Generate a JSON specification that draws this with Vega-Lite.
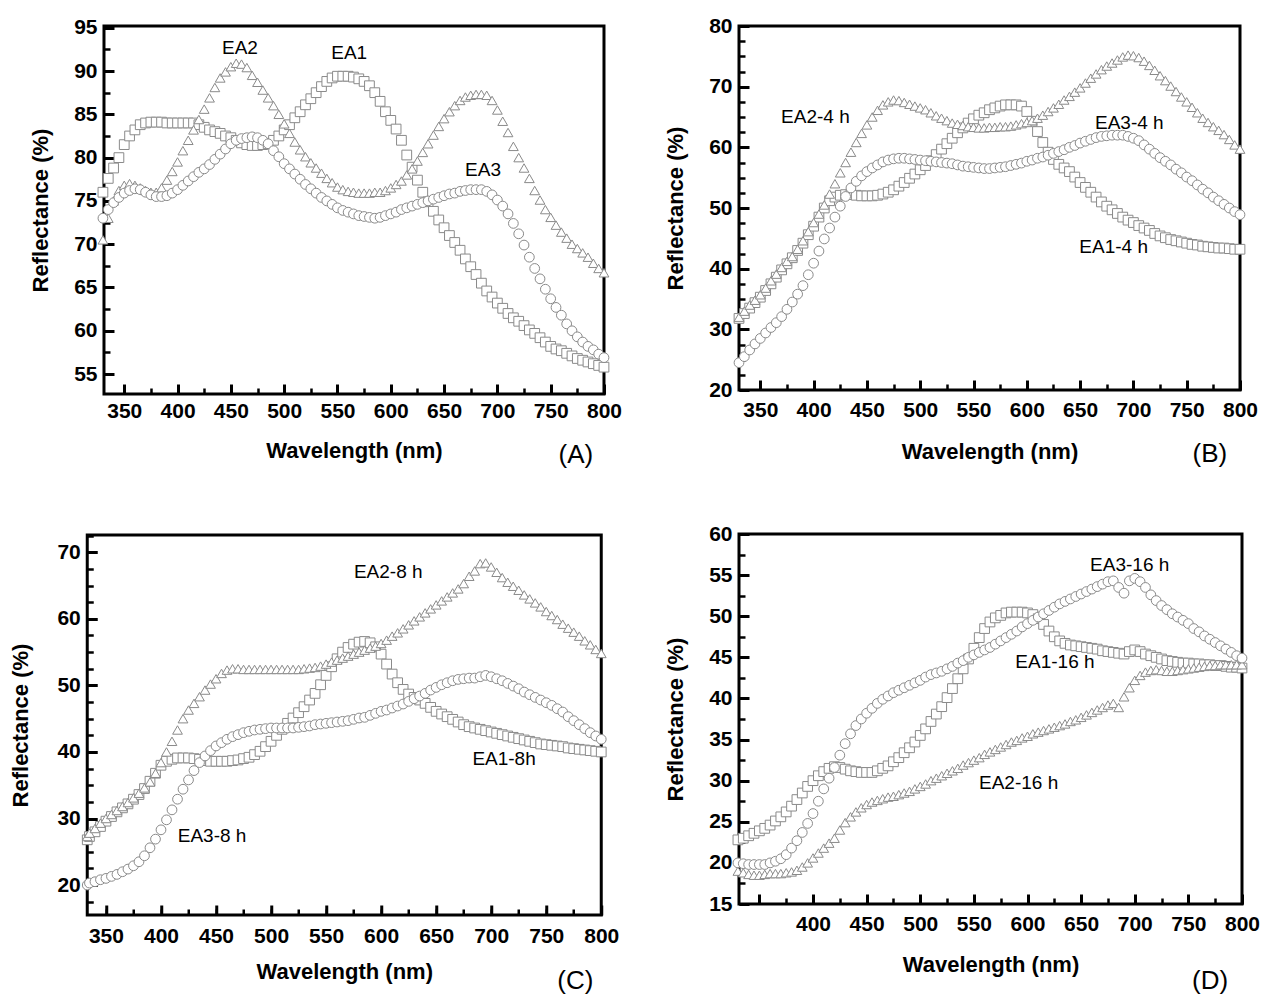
{
"$schema": "https://vega.github.io/schema/vega-lite/v6.json",
"padding": {"left": 8, "top": 13, "right": 0, "bottom": 0},
"background": "white",
"config": {
  "view": {"stroke": "black", "strokeWidth": 3},
  "axis": {"ticks": true, "domainColor": "black", "domainWidth": 3, "tickColor": "#000000", "tickOpacity": 1, "tickWidth": 3, "zindex": 1, "labelFont": "Liberation Sans", "labelFontWeight": "bold", "labelFontSize": 21, "labelColor": "black", "titleFont": "Liberation Sans", "titleFontWeight": "bold", "titleFontSize": 22, "titleColor": "black", "grid": false, "labelOverlap": false, "labelBound": false, "labelFlush": false},
  "text": {"font": "Liberation Sans", "color": "black"}
},
"datasets": {
"A": [
{"w":330,"s":"EA1","r":76},{"w":335,"s":"EA1","r":77.6},{"w":340,"s":"EA1","r":78.8},{"w":345,"s":"EA1","r":80},{"w":350,"s":"EA1","r":81.5},{"w":355,"s":"EA1","r":82.5},{"w":360,"s":"EA1","r":83.2},{"w":365,"s":"EA1","r":83.8},{"w":370,"s":"EA1","r":84},{"w":375,"s":"EA1","r":84.1},{"w":380,"s":"EA1","r":84.1},{"w":385,"s":"EA1","r":84.1},{"w":390,"s":"EA1","r":84},{"w":395,"s":"EA1","r":84},{"w":400,"s":"EA1","r":84},{"w":405,"s":"EA1","r":84},{"w":410,"s":"EA1","r":84},{"w":415,"s":"EA1","r":84},{"w":420,"s":"EA1","r":83.8},{"w":425,"s":"EA1","r":83.5},{"w":430,"s":"EA1","r":83.2},{"w":435,"s":"EA1","r":83},{"w":440,"s":"EA1","r":82.8},{"w":445,"s":"EA1","r":82.5},{"w":450,"s":"EA1","r":82.3},{"w":455,"s":"EA1","r":82},{"w":460,"s":"EA1","r":81.7},{"w":465,"s":"EA1","r":81.5},{"w":470,"s":"EA1","r":81.4},{"w":475,"s":"EA1","r":81.4},{"w":480,"s":"EA1","r":81.5},{"w":485,"s":"EA1","r":81.6},{"w":490,"s":"EA1","r":82},{"w":495,"s":"EA1","r":82.5},{"w":500,"s":"EA1","r":83.2},{"w":505,"s":"EA1","r":83.8},{"w":510,"s":"EA1","r":84.6},{"w":515,"s":"EA1","r":85.3},{"w":520,"s":"EA1","r":86.1},{"w":525,"s":"EA1","r":86.8},{"w":530,"s":"EA1","r":87.5},{"w":535,"s":"EA1","r":88.2},{"w":540,"s":"EA1","r":88.8},{"w":545,"s":"EA1","r":89.2},{"w":550,"s":"EA1","r":89.4},{"w":555,"s":"EA1","r":89.4},{"w":560,"s":"EA1","r":89.4},{"w":565,"s":"EA1","r":89.3},{"w":570,"s":"EA1","r":89.1},{"w":575,"s":"EA1","r":88.8},{"w":580,"s":"EA1","r":88.3},{"w":585,"s":"EA1","r":87.5},{"w":590,"s":"EA1","r":86.5},{"w":595,"s":"EA1","r":85.3},{"w":600,"s":"EA1","r":84.3},{"w":605,"s":"EA1","r":83.3},{"w":610,"s":"EA1","r":82},{"w":615,"s":"EA1","r":80.3},{"w":620,"s":"EA1","r":78.9},{"w":625,"s":"EA1","r":77.4},{"w":630,"s":"EA1","r":76},{"w":635,"s":"EA1","r":74.9},{"w":640,"s":"EA1","r":73.8},{"w":645,"s":"EA1","r":72.8},{"w":650,"s":"EA1","r":71.9},{"w":655,"s":"EA1","r":71},{"w":660,"s":"EA1","r":70.2},{"w":665,"s":"EA1","r":69.3},{"w":670,"s":"EA1","r":68.3},{"w":675,"s":"EA1","r":67.4},{"w":680,"s":"EA1","r":66.5},{"w":685,"s":"EA1","r":65.5},{"w":690,"s":"EA1","r":64.6},{"w":695,"s":"EA1","r":63.9},{"w":700,"s":"EA1","r":63.2},{"w":705,"s":"EA1","r":62.6},{"w":710,"s":"EA1","r":62},{"w":715,"s":"EA1","r":61.5},{"w":720,"s":"EA1","r":61.1},{"w":725,"s":"EA1","r":60.6},{"w":730,"s":"EA1","r":60.1},{"w":735,"s":"EA1","r":59.7},{"w":740,"s":"EA1","r":59.2},{"w":745,"s":"EA1","r":58.7},{"w":750,"s":"EA1","r":58.2},{"w":755,"s":"EA1","r":57.9},{"w":760,"s":"EA1","r":57.7},{"w":765,"s":"EA1","r":57.4},{"w":770,"s":"EA1","r":57.1},{"w":775,"s":"EA1","r":56.8},{"w":780,"s":"EA1","r":56.6},{"w":785,"s":"EA1","r":56.4},{"w":790,"s":"EA1","r":56.2},{"w":795,"s":"EA1","r":56},{"w":800,"s":"EA1","r":55.8},
{"w":330,"s":"EA2","r":70.5},{"w":335,"s":"EA2","r":73},{"w":340,"s":"EA2","r":75},{"w":345,"s":"EA2","r":76.2},{"w":350,"s":"EA2","r":76.8},{"w":355,"s":"EA2","r":77},{"w":360,"s":"EA2","r":76.8},{"w":365,"s":"EA2","r":76.5},{"w":370,"s":"EA2","r":76.2},{"w":375,"s":"EA2","r":76},{"w":380,"s":"EA2","r":76},{"w":385,"s":"EA2","r":76.5},{"w":390,"s":"EA2","r":77.4},{"w":395,"s":"EA2","r":78.4},{"w":400,"s":"EA2","r":79.5},{"w":405,"s":"EA2","r":80.8},{"w":410,"s":"EA2","r":82},{"w":415,"s":"EA2","r":83.2},{"w":420,"s":"EA2","r":84.4},{"w":425,"s":"EA2","r":85.6},{"w":430,"s":"EA2","r":86.9},{"w":435,"s":"EA2","r":88.1},{"w":440,"s":"EA2","r":89.2},{"w":445,"s":"EA2","r":89.9},{"w":450,"s":"EA2","r":90.5},{"w":455,"s":"EA2","r":90.9},{"w":460,"s":"EA2","r":90.8},{"w":465,"s":"EA2","r":90.4},{"w":470,"s":"EA2","r":89.5},{"w":475,"s":"EA2","r":88.7},{"w":480,"s":"EA2","r":87.8},{"w":485,"s":"EA2","r":86.9},{"w":490,"s":"EA2","r":86},{"w":495,"s":"EA2","r":85},{"w":500,"s":"EA2","r":83.9},{"w":505,"s":"EA2","r":82.8},{"w":510,"s":"EA2","r":81.8},{"w":515,"s":"EA2","r":80.9},{"w":520,"s":"EA2","r":80.1},{"w":525,"s":"EA2","r":79.4},{"w":530,"s":"EA2","r":78.8},{"w":535,"s":"EA2","r":78.2},{"w":540,"s":"EA2","r":77.6},{"w":545,"s":"EA2","r":77.1},{"w":550,"s":"EA2","r":76.6},{"w":555,"s":"EA2","r":76.3},{"w":560,"s":"EA2","r":76.1},{"w":565,"s":"EA2","r":76},{"w":570,"s":"EA2","r":75.9},{"w":575,"s":"EA2","r":75.9},{"w":580,"s":"EA2","r":75.9},{"w":585,"s":"EA2","r":76},{"w":590,"s":"EA2","r":76},{"w":595,"s":"EA2","r":76.2},{"w":600,"s":"EA2","r":76.5},{"w":605,"s":"EA2","r":76.9},{"w":610,"s":"EA2","r":77.3},{"w":615,"s":"EA2","r":78},{"w":620,"s":"EA2","r":78.7},{"w":625,"s":"EA2","r":79.6},{"w":630,"s":"EA2","r":80.6},{"w":635,"s":"EA2","r":81.6},{"w":640,"s":"EA2","r":82.6},{"w":645,"s":"EA2","r":83.6},{"w":650,"s":"EA2","r":84.5},{"w":655,"s":"EA2","r":85.3},{"w":660,"s":"EA2","r":86},{"w":665,"s":"EA2","r":86.6},{"w":670,"s":"EA2","r":87},{"w":675,"s":"EA2","r":87.2},{"w":680,"s":"EA2","r":87.3},{"w":685,"s":"EA2","r":87.3},{"w":690,"s":"EA2","r":87.2},{"w":695,"s":"EA2","r":86.6},{"w":700,"s":"EA2","r":85.5},{"w":705,"s":"EA2","r":84.2},{"w":710,"s":"EA2","r":82.9},{"w":715,"s":"EA2","r":81.3},{"w":720,"s":"EA2","r":80},{"w":725,"s":"EA2","r":78.8},{"w":730,"s":"EA2","r":77.6},{"w":735,"s":"EA2","r":76.2},{"w":740,"s":"EA2","r":75.1},{"w":745,"s":"EA2","r":74},{"w":750,"s":"EA2","r":73.1},{"w":755,"s":"EA2","r":72.2},{"w":760,"s":"EA2","r":71.4},{"w":765,"s":"EA2","r":70.7},{"w":770,"s":"EA2","r":70},{"w":775,"s":"EA2","r":69.5},{"w":780,"s":"EA2","r":69},{"w":785,"s":"EA2","r":68.5},{"w":790,"s":"EA2","r":67.8},{"w":795,"s":"EA2","r":67.2},{"w":800,"s":"EA2","r":66.7},
{"w":330,"s":"EA3","r":73},{"w":335,"s":"EA3","r":74},{"w":340,"s":"EA3","r":74.8},{"w":345,"s":"EA3","r":75.4},{"w":350,"s":"EA3","r":75.9},{"w":355,"s":"EA3","r":76.2},{"w":360,"s":"EA3","r":76.4},{"w":365,"s":"EA3","r":76.3},{"w":370,"s":"EA3","r":76},{"w":375,"s":"EA3","r":75.7},{"w":380,"s":"EA3","r":75.5},{"w":385,"s":"EA3","r":75.5},{"w":390,"s":"EA3","r":75.6},{"w":395,"s":"EA3","r":75.9},{"w":400,"s":"EA3","r":76.3},{"w":405,"s":"EA3","r":76.8},{"w":410,"s":"EA3","r":77.3},{"w":415,"s":"EA3","r":77.8},{"w":420,"s":"EA3","r":78.3},{"w":425,"s":"EA3","r":78.7},{"w":430,"s":"EA3","r":79.2},{"w":435,"s":"EA3","r":79.8},{"w":440,"s":"EA3","r":80.4},{"w":445,"s":"EA3","r":81},{"w":450,"s":"EA3","r":81.6},{"w":455,"s":"EA3","r":82},{"w":460,"s":"EA3","r":82.2},{"w":465,"s":"EA3","r":82.3},{"w":470,"s":"EA3","r":82.4},{"w":475,"s":"EA3","r":82.3},{"w":480,"s":"EA3","r":82},{"w":485,"s":"EA3","r":81.6},{"w":490,"s":"EA3","r":80.8},{"w":495,"s":"EA3","r":80.1},{"w":500,"s":"EA3","r":79.3},{"w":505,"s":"EA3","r":78.7},{"w":510,"s":"EA3","r":78.1},{"w":515,"s":"EA3","r":77.5},{"w":520,"s":"EA3","r":76.9},{"w":525,"s":"EA3","r":76.4},{"w":530,"s":"EA3","r":75.9},{"w":535,"s":"EA3","r":75.4},{"w":540,"s":"EA3","r":75},{"w":545,"s":"EA3","r":74.6},{"w":550,"s":"EA3","r":74.2},{"w":555,"s":"EA3","r":73.9},{"w":560,"s":"EA3","r":73.7},{"w":565,"s":"EA3","r":73.5},{"w":570,"s":"EA3","r":73.3},{"w":575,"s":"EA3","r":73.2},{"w":580,"s":"EA3","r":73.1},{"w":585,"s":"EA3","r":73},{"w":590,"s":"EA3","r":73.1},{"w":595,"s":"EA3","r":73.3},{"w":600,"s":"EA3","r":73.5},{"w":605,"s":"EA3","r":73.7},{"w":610,"s":"EA3","r":74},{"w":615,"s":"EA3","r":74.2},{"w":620,"s":"EA3","r":74.4},{"w":625,"s":"EA3","r":74.6},{"w":630,"s":"EA3","r":74.8},{"w":635,"s":"EA3","r":75},{"w":640,"s":"EA3","r":75.2},{"w":645,"s":"EA3","r":75.4},{"w":650,"s":"EA3","r":75.6},{"w":655,"s":"EA3","r":75.8},{"w":660,"s":"EA3","r":75.9},{"w":665,"s":"EA3","r":76.1},{"w":670,"s":"EA3","r":76.2},{"w":675,"s":"EA3","r":76.3},{"w":680,"s":"EA3","r":76.3},{"w":685,"s":"EA3","r":76.3},{"w":690,"s":"EA3","r":76.1},{"w":695,"s":"EA3","r":75.7},{"w":700,"s":"EA3","r":75.1},{"w":705,"s":"EA3","r":74.4},{"w":710,"s":"EA3","r":73.5},{"w":715,"s":"EA3","r":72.4},{"w":720,"s":"EA3","r":71.2},{"w":725,"s":"EA3","r":69.9},{"w":730,"s":"EA3","r":68.5},{"w":735,"s":"EA3","r":67.2},{"w":740,"s":"EA3","r":66},{"w":745,"s":"EA3","r":64.8},{"w":750,"s":"EA3","r":63.7},{"w":755,"s":"EA3","r":62.7},{"w":760,"s":"EA3","r":61.8},{"w":765,"s":"EA3","r":60.8},{"w":770,"s":"EA3","r":60},{"w":775,"s":"EA3","r":59.3},{"w":780,"s":"EA3","r":58.7},{"w":785,"s":"EA3","r":58.2},{"w":790,"s":"EA3","r":57.8},{"w":795,"s":"EA3","r":57.3},{"w":800,"s":"EA3","r":56.9}
],
"B": [
{"w":330,"s":"EA1","r":31.8},{"w":335,"s":"EA1","r":32.6},{"w":340,"s":"EA1","r":33.5},{"w":345,"s":"EA1","r":34.4},{"w":350,"s":"EA1","r":35.3},{"w":355,"s":"EA1","r":36.4},{"w":360,"s":"EA1","r":37.5},{"w":365,"s":"EA1","r":38.6},{"w":370,"s":"EA1","r":39.8},{"w":375,"s":"EA1","r":40.8},{"w":380,"s":"EA1","r":41.8},{"w":385,"s":"EA1","r":43},{"w":390,"s":"EA1","r":44.2},{"w":395,"s":"EA1","r":45.6},{"w":400,"s":"EA1","r":47},{"w":405,"s":"EA1","r":48.5},{"w":410,"s":"EA1","r":50},{"w":415,"s":"EA1","r":51.2},{"w":420,"s":"EA1","r":51.8},{"w":425,"s":"EA1","r":52.1},{"w":430,"s":"EA1","r":52.2},{"w":435,"s":"EA1","r":52.2},{"w":440,"s":"EA1","r":52.1},{"w":445,"s":"EA1","r":52},{"w":450,"s":"EA1","r":52},{"w":455,"s":"EA1","r":52},{"w":460,"s":"EA1","r":52.1},{"w":465,"s":"EA1","r":52.3},{"w":470,"s":"EA1","r":52.6},{"w":475,"s":"EA1","r":53},{"w":480,"s":"EA1","r":53.6},{"w":485,"s":"EA1","r":54.2},{"w":490,"s":"EA1","r":54.9},{"w":495,"s":"EA1","r":55.6},{"w":500,"s":"EA1","r":56.3},{"w":505,"s":"EA1","r":57},{"w":510,"s":"EA1","r":57.8},{"w":515,"s":"EA1","r":58.8},{"w":520,"s":"EA1","r":59.7},{"w":525,"s":"EA1","r":60.6},{"w":530,"s":"EA1","r":61.5},{"w":535,"s":"EA1","r":62.4},{"w":540,"s":"EA1","r":63.2},{"w":545,"s":"EA1","r":64},{"w":550,"s":"EA1","r":64.7},{"w":555,"s":"EA1","r":65.3},{"w":560,"s":"EA1","r":65.7},{"w":565,"s":"EA1","r":66.2},{"w":570,"s":"EA1","r":66.5},{"w":575,"s":"EA1","r":66.8},{"w":580,"s":"EA1","r":67},{"w":585,"s":"EA1","r":67},{"w":590,"s":"EA1","r":67},{"w":595,"s":"EA1","r":66.8},{"w":600,"s":"EA1","r":65.9},{"w":605,"s":"EA1","r":64.3},{"w":610,"s":"EA1","r":62.6},{"w":615,"s":"EA1","r":60.8},{"w":620,"s":"EA1","r":59.2},{"w":625,"s":"EA1","r":58},{"w":630,"s":"EA1","r":57.2},{"w":635,"s":"EA1","r":56.6},{"w":640,"s":"EA1","r":56},{"w":645,"s":"EA1","r":55.1},{"w":650,"s":"EA1","r":54.2},{"w":655,"s":"EA1","r":53.4},{"w":660,"s":"EA1","r":52.6},{"w":665,"s":"EA1","r":51.8},{"w":670,"s":"EA1","r":51},{"w":675,"s":"EA1","r":50.3},{"w":680,"s":"EA1","r":49.7},{"w":685,"s":"EA1","r":49.1},{"w":690,"s":"EA1","r":48.5},{"w":695,"s":"EA1","r":48},{"w":700,"s":"EA1","r":47.6},{"w":705,"s":"EA1","r":47.1},{"w":710,"s":"EA1","r":46.7},{"w":715,"s":"EA1","r":46.3},{"w":720,"s":"EA1","r":45.8},{"w":725,"s":"EA1","r":45.4},{"w":730,"s":"EA1","r":45.1},{"w":735,"s":"EA1","r":44.8},{"w":740,"s":"EA1","r":44.6},{"w":745,"s":"EA1","r":44.4},{"w":750,"s":"EA1","r":44.2},{"w":755,"s":"EA1","r":44},{"w":760,"s":"EA1","r":43.9},{"w":765,"s":"EA1","r":43.7},{"w":770,"s":"EA1","r":43.6},{"w":775,"s":"EA1","r":43.5},{"w":780,"s":"EA1","r":43.4},{"w":785,"s":"EA1","r":43.4},{"w":790,"s":"EA1","r":43.3},{"w":795,"s":"EA1","r":43.2},{"w":800,"s":"EA1","r":43.2},
{"w":330,"s":"EA2","r":32},{"w":335,"s":"EA2","r":33},{"w":340,"s":"EA2","r":34},{"w":345,"s":"EA2","r":34.8},{"w":350,"s":"EA2","r":35.7},{"w":355,"s":"EA2","r":36.8},{"w":360,"s":"EA2","r":38},{"w":365,"s":"EA2","r":39.1},{"w":370,"s":"EA2","r":40.2},{"w":375,"s":"EA2","r":41.2},{"w":380,"s":"EA2","r":42},{"w":385,"s":"EA2","r":43.2},{"w":390,"s":"EA2","r":44.6},{"w":395,"s":"EA2","r":46.1},{"w":400,"s":"EA2","r":47.6},{"w":405,"s":"EA2","r":49},{"w":410,"s":"EA2","r":50.5},{"w":415,"s":"EA2","r":52.3},{"w":420,"s":"EA2","r":54},{"w":425,"s":"EA2","r":55.8},{"w":430,"s":"EA2","r":57.5},{"w":435,"s":"EA2","r":59.2},{"w":440,"s":"EA2","r":60.8},{"w":445,"s":"EA2","r":62.3},{"w":450,"s":"EA2","r":63.7},{"w":455,"s":"EA2","r":65},{"w":460,"s":"EA2","r":66.1},{"w":465,"s":"EA2","r":67},{"w":470,"s":"EA2","r":67.5},{"w":475,"s":"EA2","r":67.8},{"w":480,"s":"EA2","r":67.7},{"w":485,"s":"EA2","r":67.4},{"w":490,"s":"EA2","r":67.1},{"w":495,"s":"EA2","r":66.8},{"w":500,"s":"EA2","r":66.5},{"w":505,"s":"EA2","r":66.2},{"w":510,"s":"EA2","r":65.7},{"w":515,"s":"EA2","r":65.2},{"w":520,"s":"EA2","r":64.8},{"w":525,"s":"EA2","r":64.4},{"w":530,"s":"EA2","r":64},{"w":535,"s":"EA2","r":63.8},{"w":540,"s":"EA2","r":63.6},{"w":545,"s":"EA2","r":63.4},{"w":550,"s":"EA2","r":63.3},{"w":555,"s":"EA2","r":63.2},{"w":560,"s":"EA2","r":63.2},{"w":565,"s":"EA2","r":63.3},{"w":570,"s":"EA2","r":63.3},{"w":575,"s":"EA2","r":63.4},{"w":580,"s":"EA2","r":63.4},{"w":585,"s":"EA2","r":63.5},{"w":590,"s":"EA2","r":63.7},{"w":595,"s":"EA2","r":63.9},{"w":600,"s":"EA2","r":64.1},{"w":605,"s":"EA2","r":64.4},{"w":610,"s":"EA2","r":64.8},{"w":615,"s":"EA2","r":65.3},{"w":620,"s":"EA2","r":65.9},{"w":625,"s":"EA2","r":66.5},{"w":630,"s":"EA2","r":67.1},{"w":635,"s":"EA2","r":67.8},{"w":640,"s":"EA2","r":68.4},{"w":645,"s":"EA2","r":69.1},{"w":650,"s":"EA2","r":69.8},{"w":655,"s":"EA2","r":70.6},{"w":660,"s":"EA2","r":71.4},{"w":665,"s":"EA2","r":72.1},{"w":670,"s":"EA2","r":72.8},{"w":675,"s":"EA2","r":73.4},{"w":680,"s":"EA2","r":73.9},{"w":685,"s":"EA2","r":74.4},{"w":690,"s":"EA2","r":74.9},{"w":695,"s":"EA2","r":75.2},{"w":700,"s":"EA2","r":75.1},{"w":705,"s":"EA2","r":74.8},{"w":710,"s":"EA2","r":74.2},{"w":715,"s":"EA2","r":73.5},{"w":720,"s":"EA2","r":72.7},{"w":725,"s":"EA2","r":71.8},{"w":730,"s":"EA2","r":71},{"w":735,"s":"EA2","r":70.1},{"w":740,"s":"EA2","r":69.2},{"w":745,"s":"EA2","r":68.3},{"w":750,"s":"EA2","r":67.5},{"w":755,"s":"EA2","r":66.6},{"w":760,"s":"EA2","r":65.7},{"w":765,"s":"EA2","r":64.8},{"w":770,"s":"EA2","r":64.1},{"w":775,"s":"EA2","r":63.4},{"w":780,"s":"EA2","r":62.8},{"w":785,"s":"EA2","r":62.1},{"w":790,"s":"EA2","r":61.3},{"w":795,"s":"EA2","r":60.4},{"w":800,"s":"EA2","r":59.7},
{"w":330,"s":"EA3","r":24.5},{"w":335,"s":"EA3","r":25.5},{"w":340,"s":"EA3","r":26.6},{"w":345,"s":"EA3","r":27.6},{"w":350,"s":"EA3","r":28.5},{"w":355,"s":"EA3","r":29.4},{"w":360,"s":"EA3","r":30.3},{"w":365,"s":"EA3","r":31.1},{"w":370,"s":"EA3","r":32.1},{"w":375,"s":"EA3","r":33.3},{"w":380,"s":"EA3","r":34.5},{"w":385,"s":"EA3","r":35.8},{"w":390,"s":"EA3","r":37.2},{"w":395,"s":"EA3","r":39},{"w":400,"s":"EA3","r":40.9},{"w":405,"s":"EA3","r":42.9},{"w":410,"s":"EA3","r":44.9},{"w":415,"s":"EA3","r":46.7},{"w":420,"s":"EA3","r":48.5},{"w":425,"s":"EA3","r":50.3},{"w":430,"s":"EA3","r":51.9},{"w":435,"s":"EA3","r":53.3},{"w":440,"s":"EA3","r":54.4},{"w":445,"s":"EA3","r":55.3},{"w":450,"s":"EA3","r":56},{"w":455,"s":"EA3","r":56.6},{"w":460,"s":"EA3","r":57.1},{"w":465,"s":"EA3","r":57.6},{"w":470,"s":"EA3","r":57.9},{"w":475,"s":"EA3","r":58.1},{"w":480,"s":"EA3","r":58.2},{"w":485,"s":"EA3","r":58.2},{"w":490,"s":"EA3","r":58.1},{"w":495,"s":"EA3","r":58},{"w":500,"s":"EA3","r":57.9},{"w":505,"s":"EA3","r":57.8},{"w":510,"s":"EA3","r":57.7},{"w":515,"s":"EA3","r":57.6},{"w":520,"s":"EA3","r":57.5},{"w":525,"s":"EA3","r":57.4},{"w":530,"s":"EA3","r":57.3},{"w":535,"s":"EA3","r":57.1},{"w":540,"s":"EA3","r":56.9},{"w":545,"s":"EA3","r":56.8},{"w":550,"s":"EA3","r":56.7},{"w":555,"s":"EA3","r":56.6},{"w":560,"s":"EA3","r":56.5},{"w":565,"s":"EA3","r":56.5},{"w":570,"s":"EA3","r":56.6},{"w":575,"s":"EA3","r":56.7},{"w":580,"s":"EA3","r":56.8},{"w":585,"s":"EA3","r":57},{"w":590,"s":"EA3","r":57.2},{"w":595,"s":"EA3","r":57.4},{"w":600,"s":"EA3","r":57.7},{"w":605,"s":"EA3","r":57.9},{"w":610,"s":"EA3","r":58.2},{"w":615,"s":"EA3","r":58.4},{"w":620,"s":"EA3","r":58.7},{"w":625,"s":"EA3","r":59},{"w":630,"s":"EA3","r":59.3},{"w":635,"s":"EA3","r":59.6},{"w":640,"s":"EA3","r":60},{"w":645,"s":"EA3","r":60.3},{"w":650,"s":"EA3","r":60.7},{"w":655,"s":"EA3","r":61},{"w":660,"s":"EA3","r":61.3},{"w":665,"s":"EA3","r":61.6},{"w":670,"s":"EA3","r":61.8},{"w":675,"s":"EA3","r":61.9},{"w":680,"s":"EA3","r":62},{"w":685,"s":"EA3","r":62},{"w":690,"s":"EA3","r":62},{"w":695,"s":"EA3","r":61.8},{"w":700,"s":"EA3","r":61.5},{"w":705,"s":"EA3","r":61.1},{"w":710,"s":"EA3","r":60.4},{"w":715,"s":"EA3","r":59.7},{"w":720,"s":"EA3","r":59},{"w":725,"s":"EA3","r":58.3},{"w":730,"s":"EA3","r":57.7},{"w":735,"s":"EA3","r":57.1},{"w":740,"s":"EA3","r":56.4},{"w":745,"s":"EA3","r":55.8},{"w":750,"s":"EA3","r":55.1},{"w":755,"s":"EA3","r":54.5},{"w":760,"s":"EA3","r":53.8},{"w":765,"s":"EA3","r":53.1},{"w":770,"s":"EA3","r":52.5},{"w":775,"s":"EA3","r":51.8},{"w":780,"s":"EA3","r":51.2},{"w":785,"s":"EA3","r":50.6},{"w":790,"s":"EA3","r":50},{"w":795,"s":"EA3","r":49.4},{"w":800,"s":"EA3","r":48.9}
],
"C": [
{"w":333,"s":"EA1","r":26.8},{"w":335,"s":"EA1","r":27.3},{"w":340,"s":"EA1","r":28},{"w":345,"s":"EA1","r":28.8},{"w":350,"s":"EA1","r":29.6},{"w":355,"s":"EA1","r":30.3},{"w":360,"s":"EA1","r":31},{"w":365,"s":"EA1","r":31.6},{"w":370,"s":"EA1","r":32.2},{"w":375,"s":"EA1","r":32.9},{"w":380,"s":"EA1","r":33.6},{"w":385,"s":"EA1","r":34.5},{"w":390,"s":"EA1","r":35.6},{"w":395,"s":"EA1","r":36.8},{"w":400,"s":"EA1","r":38},{"w":405,"s":"EA1","r":38.6},{"w":410,"s":"EA1","r":38.9},{"w":415,"s":"EA1","r":39.1},{"w":420,"s":"EA1","r":39.1},{"w":425,"s":"EA1","r":39.1},{"w":430,"s":"EA1","r":39},{"w":435,"s":"EA1","r":38.9},{"w":440,"s":"EA1","r":38.7},{"w":445,"s":"EA1","r":38.6},{"w":450,"s":"EA1","r":38.6},{"w":455,"s":"EA1","r":38.6},{"w":460,"s":"EA1","r":38.6},{"w":465,"s":"EA1","r":38.7},{"w":470,"s":"EA1","r":38.8},{"w":475,"s":"EA1","r":39},{"w":480,"s":"EA1","r":39.2},{"w":485,"s":"EA1","r":39.6},{"w":490,"s":"EA1","r":40.1},{"w":495,"s":"EA1","r":40.8},{"w":500,"s":"EA1","r":41.6},{"w":505,"s":"EA1","r":42.5},{"w":510,"s":"EA1","r":43.4},{"w":515,"s":"EA1","r":44.3},{"w":520,"s":"EA1","r":45.1},{"w":525,"s":"EA1","r":45.9},{"w":530,"s":"EA1","r":46.8},{"w":535,"s":"EA1","r":47.8},{"w":540,"s":"EA1","r":48.8},{"w":545,"s":"EA1","r":50.1},{"w":550,"s":"EA1","r":51.5},{"w":555,"s":"EA1","r":52.8},{"w":560,"s":"EA1","r":54},{"w":565,"s":"EA1","r":55},{"w":570,"s":"EA1","r":55.7},{"w":575,"s":"EA1","r":56.2},{"w":580,"s":"EA1","r":56.5},{"w":585,"s":"EA1","r":56.6},{"w":590,"s":"EA1","r":56.4},{"w":595,"s":"EA1","r":55.8},{"w":600,"s":"EA1","r":54.7},{"w":605,"s":"EA1","r":53.2},{"w":610,"s":"EA1","r":51.7},{"w":615,"s":"EA1","r":50.4},{"w":620,"s":"EA1","r":49.4},{"w":625,"s":"EA1","r":48.7},{"w":630,"s":"EA1","r":48.2},{"w":635,"s":"EA1","r":47.8},{"w":640,"s":"EA1","r":47.3},{"w":645,"s":"EA1","r":46.7},{"w":650,"s":"EA1","r":46.1},{"w":655,"s":"EA1","r":45.7},{"w":660,"s":"EA1","r":45.3},{"w":665,"s":"EA1","r":44.9},{"w":670,"s":"EA1","r":44.5},{"w":675,"s":"EA1","r":44.1},{"w":680,"s":"EA1","r":43.8},{"w":685,"s":"EA1","r":43.6},{"w":690,"s":"EA1","r":43.4},{"w":695,"s":"EA1","r":43.2},{"w":700,"s":"EA1","r":43},{"w":705,"s":"EA1","r":42.8},{"w":710,"s":"EA1","r":42.6},{"w":715,"s":"EA1","r":42.4},{"w":720,"s":"EA1","r":42.2},{"w":725,"s":"EA1","r":42},{"w":730,"s":"EA1","r":41.8},{"w":735,"s":"EA1","r":41.6},{"w":740,"s":"EA1","r":41.4},{"w":745,"s":"EA1","r":41.2},{"w":750,"s":"EA1","r":41.1},{"w":755,"s":"EA1","r":41},{"w":760,"s":"EA1","r":40.9},{"w":765,"s":"EA1","r":40.8},{"w":770,"s":"EA1","r":40.6},{"w":775,"s":"EA1","r":40.5},{"w":780,"s":"EA1","r":40.4},{"w":785,"s":"EA1","r":40.3},{"w":790,"s":"EA1","r":40.2},{"w":795,"s":"EA1","r":40.1},{"w":800,"s":"EA1","r":40},
{"w":333,"s":"EA2","r":27.3},{"w":335,"s":"EA2","r":27.8},{"w":340,"s":"EA2","r":28.5},{"w":345,"s":"EA2","r":29.3},{"w":350,"s":"EA2","r":30},{"w":355,"s":"EA2","r":30.6},{"w":360,"s":"EA2","r":31.2},{"w":365,"s":"EA2","r":31.8},{"w":370,"s":"EA2","r":32.4},{"w":375,"s":"EA2","r":33.1},{"w":380,"s":"EA2","r":33.8},{"w":385,"s":"EA2","r":34.6},{"w":390,"s":"EA2","r":35.5},{"w":395,"s":"EA2","r":36.8},{"w":400,"s":"EA2","r":38.4},{"w":405,"s":"EA2","r":40},{"w":410,"s":"EA2","r":41.6},{"w":415,"s":"EA2","r":43.3},{"w":420,"s":"EA2","r":45},{"w":425,"s":"EA2","r":46.3},{"w":430,"s":"EA2","r":47.3},{"w":435,"s":"EA2","r":48.3},{"w":440,"s":"EA2","r":49.3},{"w":445,"s":"EA2","r":50.2},{"w":450,"s":"EA2","r":51},{"w":455,"s":"EA2","r":51.8},{"w":460,"s":"EA2","r":52.3},{"w":465,"s":"EA2","r":52.5},{"w":470,"s":"EA2","r":52.5},{"w":475,"s":"EA2","r":52.4},{"w":480,"s":"EA2","r":52.4},{"w":485,"s":"EA2","r":52.4},{"w":490,"s":"EA2","r":52.4},{"w":495,"s":"EA2","r":52.4},{"w":500,"s":"EA2","r":52.4},{"w":505,"s":"EA2","r":52.4},{"w":510,"s":"EA2","r":52.4},{"w":515,"s":"EA2","r":52.4},{"w":520,"s":"EA2","r":52.4},{"w":525,"s":"EA2","r":52.4},{"w":530,"s":"EA2","r":52.5},{"w":535,"s":"EA2","r":52.6},{"w":540,"s":"EA2","r":52.7},{"w":545,"s":"EA2","r":52.9},{"w":550,"s":"EA2","r":53.2},{"w":555,"s":"EA2","r":53.5},{"w":560,"s":"EA2","r":53.8},{"w":565,"s":"EA2","r":54.1},{"w":570,"s":"EA2","r":54.4},{"w":575,"s":"EA2","r":54.7},{"w":580,"s":"EA2","r":55},{"w":585,"s":"EA2","r":55.3},{"w":590,"s":"EA2","r":55.6},{"w":595,"s":"EA2","r":55.9},{"w":600,"s":"EA2","r":56.3},{"w":605,"s":"EA2","r":56.8},{"w":610,"s":"EA2","r":57.4},{"w":615,"s":"EA2","r":57.9},{"w":620,"s":"EA2","r":58.5},{"w":625,"s":"EA2","r":59.1},{"w":630,"s":"EA2","r":59.7},{"w":635,"s":"EA2","r":60.3},{"w":640,"s":"EA2","r":60.9},{"w":645,"s":"EA2","r":61.5},{"w":650,"s":"EA2","r":62.1},{"w":655,"s":"EA2","r":62.7},{"w":660,"s":"EA2","r":63.3},{"w":665,"s":"EA2","r":63.9},{"w":670,"s":"EA2","r":64.5},{"w":675,"s":"EA2","r":65.3},{"w":680,"s":"EA2","r":66.4},{"w":685,"s":"EA2","r":67.2},{"w":690,"s":"EA2","r":68.3},{"w":695,"s":"EA2","r":68.4},{"w":700,"s":"EA2","r":67.8},{"w":705,"s":"EA2","r":67},{"w":710,"s":"EA2","r":66.2},{"w":715,"s":"EA2","r":65.5},{"w":720,"s":"EA2","r":64.9},{"w":725,"s":"EA2","r":64.3},{"w":730,"s":"EA2","r":63.6},{"w":735,"s":"EA2","r":63},{"w":740,"s":"EA2","r":62.4},{"w":745,"s":"EA2","r":61.8},{"w":750,"s":"EA2","r":61.1},{"w":755,"s":"EA2","r":60.5},{"w":760,"s":"EA2","r":59.9},{"w":765,"s":"EA2","r":59.2},{"w":770,"s":"EA2","r":58.6},{"w":775,"s":"EA2","r":58},{"w":780,"s":"EA2","r":57.4},{"w":785,"s":"EA2","r":56.7},{"w":790,"s":"EA2","r":56.1},{"w":795,"s":"EA2","r":55.4},{"w":800,"s":"EA2","r":54.8},
{"w":333,"s":"EA3","r":20},{"w":335,"s":"EA3","r":20.3},{"w":340,"s":"EA3","r":20.5},{"w":345,"s":"EA3","r":20.8},{"w":350,"s":"EA3","r":21},{"w":355,"s":"EA3","r":21.3},{"w":360,"s":"EA3","r":21.6},{"w":365,"s":"EA3","r":22},{"w":370,"s":"EA3","r":22.4},{"w":375,"s":"EA3","r":22.9},{"w":380,"s":"EA3","r":23.5},{"w":385,"s":"EA3","r":24.4},{"w":390,"s":"EA3","r":25.6},{"w":395,"s":"EA3","r":26.9},{"w":400,"s":"EA3","r":28.3},{"w":405,"s":"EA3","r":29.8},{"w":410,"s":"EA3","r":31.3},{"w":415,"s":"EA3","r":32.9},{"w":420,"s":"EA3","r":34.4},{"w":425,"s":"EA3","r":35.8},{"w":430,"s":"EA3","r":37.2},{"w":435,"s":"EA3","r":38.4},{"w":440,"s":"EA3","r":39.4},{"w":445,"s":"EA3","r":40.2},{"w":450,"s":"EA3","r":40.9},{"w":455,"s":"EA3","r":41.4},{"w":460,"s":"EA3","r":41.9},{"w":465,"s":"EA3","r":42.3},{"w":470,"s":"EA3","r":42.6},{"w":475,"s":"EA3","r":42.9},{"w":480,"s":"EA3","r":43.1},{"w":485,"s":"EA3","r":43.3},{"w":490,"s":"EA3","r":43.4},{"w":495,"s":"EA3","r":43.5},{"w":500,"s":"EA3","r":43.6},{"w":505,"s":"EA3","r":43.6},{"w":510,"s":"EA3","r":43.6},{"w":515,"s":"EA3","r":43.6},{"w":520,"s":"EA3","r":43.6},{"w":525,"s":"EA3","r":43.7},{"w":530,"s":"EA3","r":43.8},{"w":535,"s":"EA3","r":43.9},{"w":540,"s":"EA3","r":44.1},{"w":545,"s":"EA3","r":44.2},{"w":550,"s":"EA3","r":44.3},{"w":555,"s":"EA3","r":44.4},{"w":560,"s":"EA3","r":44.5},{"w":565,"s":"EA3","r":44.6},{"w":570,"s":"EA3","r":44.7},{"w":575,"s":"EA3","r":44.9},{"w":580,"s":"EA3","r":45.1},{"w":585,"s":"EA3","r":45.2},{"w":590,"s":"EA3","r":45.5},{"w":595,"s":"EA3","r":45.8},{"w":600,"s":"EA3","r":46.1},{"w":605,"s":"EA3","r":46.3},{"w":610,"s":"EA3","r":46.6},{"w":615,"s":"EA3","r":46.9},{"w":620,"s":"EA3","r":47.2},{"w":625,"s":"EA3","r":47.6},{"w":630,"s":"EA3","r":48},{"w":635,"s":"EA3","r":48.4},{"w":640,"s":"EA3","r":48.8},{"w":645,"s":"EA3","r":49.3},{"w":650,"s":"EA3","r":49.7},{"w":655,"s":"EA3","r":50.1},{"w":660,"s":"EA3","r":50.4},{"w":665,"s":"EA3","r":50.7},{"w":670,"s":"EA3","r":50.9},{"w":675,"s":"EA3","r":51},{"w":680,"s":"EA3","r":51.1},{"w":685,"s":"EA3","r":51.1},{"w":690,"s":"EA3","r":51.3},{"w":695,"s":"EA3","r":51.5},{"w":700,"s":"EA3","r":51.3},{"w":705,"s":"EA3","r":51},{"w":710,"s":"EA3","r":50.7},{"w":715,"s":"EA3","r":50.3},{"w":720,"s":"EA3","r":49.9},{"w":725,"s":"EA3","r":49.5},{"w":730,"s":"EA3","r":49},{"w":735,"s":"EA3","r":48.6},{"w":740,"s":"EA3","r":48.2},{"w":745,"s":"EA3","r":47.8},{"w":750,"s":"EA3","r":47.4},{"w":755,"s":"EA3","r":47},{"w":760,"s":"EA3","r":46.5},{"w":765,"s":"EA3","r":46},{"w":770,"s":"EA3","r":45.3},{"w":775,"s":"EA3","r":44.7},{"w":780,"s":"EA3","r":44.1},{"w":785,"s":"EA3","r":43.5},{"w":790,"s":"EA3","r":42.9},{"w":795,"s":"EA3","r":42.4},{"w":800,"s":"EA3","r":41.9}
],
"D": [
{"w":330,"s":"EA1","r":22.8},{"w":335,"s":"EA1","r":23},{"w":340,"s":"EA1","r":23.3},{"w":345,"s":"EA1","r":23.6},{"w":350,"s":"EA1","r":23.9},{"w":355,"s":"EA1","r":24.2},{"w":360,"s":"EA1","r":24.6},{"w":365,"s":"EA1","r":25.1},{"w":370,"s":"EA1","r":25.6},{"w":375,"s":"EA1","r":26.2},{"w":380,"s":"EA1","r":26.9},{"w":385,"s":"EA1","r":27.7},{"w":390,"s":"EA1","r":28.5},{"w":395,"s":"EA1","r":29.3},{"w":400,"s":"EA1","r":30},{"w":405,"s":"EA1","r":30.6},{"w":410,"s":"EA1","r":31.1},{"w":415,"s":"EA1","r":31.5},{"w":420,"s":"EA1","r":31.7},{"w":425,"s":"EA1","r":31.6},{"w":430,"s":"EA1","r":31.4},{"w":435,"s":"EA1","r":31.2},{"w":440,"s":"EA1","r":31.1},{"w":445,"s":"EA1","r":31},{"w":450,"s":"EA1","r":31},{"w":455,"s":"EA1","r":31},{"w":460,"s":"EA1","r":31.2},{"w":465,"s":"EA1","r":31.5},{"w":470,"s":"EA1","r":31.8},{"w":475,"s":"EA1","r":32.3},{"w":480,"s":"EA1","r":32.8},{"w":485,"s":"EA1","r":33.4},{"w":490,"s":"EA1","r":34},{"w":495,"s":"EA1","r":34.7},{"w":500,"s":"EA1","r":35.5},{"w":505,"s":"EA1","r":36.3},{"w":510,"s":"EA1","r":37.2},{"w":515,"s":"EA1","r":38.1},{"w":520,"s":"EA1","r":39},{"w":525,"s":"EA1","r":40.1},{"w":530,"s":"EA1","r":41.2},{"w":535,"s":"EA1","r":42.4},{"w":540,"s":"EA1","r":43.6},{"w":545,"s":"EA1","r":44.8},{"w":550,"s":"EA1","r":46.1},{"w":555,"s":"EA1","r":47.4},{"w":560,"s":"EA1","r":48.5},{"w":565,"s":"EA1","r":49.3},{"w":570,"s":"EA1","r":49.8},{"w":575,"s":"EA1","r":50.1},{"w":580,"s":"EA1","r":50.4},{"w":585,"s":"EA1","r":50.5},{"w":590,"s":"EA1","r":50.5},{"w":595,"s":"EA1","r":50.5},{"w":600,"s":"EA1","r":50.4},{"w":605,"s":"EA1","r":50.2},{"w":610,"s":"EA1","r":49.7},{"w":615,"s":"EA1","r":49},{"w":620,"s":"EA1","r":48.2},{"w":625,"s":"EA1","r":47.5},{"w":630,"s":"EA1","r":47},{"w":635,"s":"EA1","r":46.7},{"w":640,"s":"EA1","r":46.5},{"w":645,"s":"EA1","r":46.4},{"w":650,"s":"EA1","r":46.3},{"w":655,"s":"EA1","r":46.2},{"w":660,"s":"EA1","r":46.1},{"w":665,"s":"EA1","r":46},{"w":670,"s":"EA1","r":45.8},{"w":675,"s":"EA1","r":45.7},{"w":680,"s":"EA1","r":45.6},{"w":685,"s":"EA1","r":45.5},{"w":690,"s":"EA1","r":45.4},{"w":695,"s":"EA1","r":45.7},{"w":700,"s":"EA1","r":45.9},{"w":705,"s":"EA1","r":45.7},{"w":710,"s":"EA1","r":45.4},{"w":715,"s":"EA1","r":45.2},{"w":720,"s":"EA1","r":45},{"w":725,"s":"EA1","r":44.8},{"w":730,"s":"EA1","r":44.6},{"w":735,"s":"EA1","r":44.5},{"w":740,"s":"EA1","r":44.4},{"w":745,"s":"EA1","r":44.3},{"w":750,"s":"EA1","r":44.3},{"w":755,"s":"EA1","r":44.2},{"w":760,"s":"EA1","r":44.2},{"w":765,"s":"EA1","r":44.1},{"w":770,"s":"EA1","r":44.1},{"w":775,"s":"EA1","r":44},{"w":780,"s":"EA1","r":44},{"w":785,"s":"EA1","r":43.9},{"w":790,"s":"EA1","r":43.8},{"w":795,"s":"EA1","r":43.8},{"w":800,"s":"EA1","r":43.7},
{"w":330,"s":"EA2","r":19},{"w":335,"s":"EA2","r":18.8},{"w":340,"s":"EA2","r":18.6},{"w":345,"s":"EA2","r":18.5},{"w":350,"s":"EA2","r":18.5},{"w":355,"s":"EA2","r":18.6},{"w":360,"s":"EA2","r":18.7},{"w":365,"s":"EA2","r":18.7},{"w":370,"s":"EA2","r":18.7},{"w":375,"s":"EA2","r":18.8},{"w":380,"s":"EA2","r":18.9},{"w":385,"s":"EA2","r":19.1},{"w":390,"s":"EA2","r":19.5},{"w":395,"s":"EA2","r":20},{"w":400,"s":"EA2","r":20.6},{"w":405,"s":"EA2","r":21.2},{"w":410,"s":"EA2","r":21.8},{"w":415,"s":"EA2","r":22.4},{"w":420,"s":"EA2","r":23},{"w":425,"s":"EA2","r":24},{"w":430,"s":"EA2","r":24.9},{"w":435,"s":"EA2","r":25.6},{"w":440,"s":"EA2","r":26.2},{"w":445,"s":"EA2","r":26.7},{"w":450,"s":"EA2","r":27.1},{"w":455,"s":"EA2","r":27.4},{"w":460,"s":"EA2","r":27.6},{"w":465,"s":"EA2","r":27.8},{"w":470,"s":"EA2","r":28},{"w":475,"s":"EA2","r":28.1},{"w":480,"s":"EA2","r":28.3},{"w":485,"s":"EA2","r":28.5},{"w":490,"s":"EA2","r":28.7},{"w":495,"s":"EA2","r":29},{"w":500,"s":"EA2","r":29.3},{"w":505,"s":"EA2","r":29.6},{"w":510,"s":"EA2","r":30},{"w":515,"s":"EA2","r":30.3},{"w":520,"s":"EA2","r":30.6},{"w":525,"s":"EA2","r":30.9},{"w":530,"s":"EA2","r":31.2},{"w":535,"s":"EA2","r":31.5},{"w":540,"s":"EA2","r":31.9},{"w":545,"s":"EA2","r":32.2},{"w":550,"s":"EA2","r":32.5},{"w":555,"s":"EA2","r":32.8},{"w":560,"s":"EA2","r":33.2},{"w":565,"s":"EA2","r":33.5},{"w":570,"s":"EA2","r":33.8},{"w":575,"s":"EA2","r":34.1},{"w":580,"s":"EA2","r":34.4},{"w":585,"s":"EA2","r":34.7},{"w":590,"s":"EA2","r":34.9},{"w":595,"s":"EA2","r":35.2},{"w":600,"s":"EA2","r":35.4},{"w":605,"s":"EA2","r":35.7},{"w":610,"s":"EA2","r":35.9},{"w":615,"s":"EA2","r":36.1},{"w":620,"s":"EA2","r":36.3},{"w":625,"s":"EA2","r":36.5},{"w":630,"s":"EA2","r":36.7},{"w":635,"s":"EA2","r":36.9},{"w":640,"s":"EA2","r":37.2},{"w":645,"s":"EA2","r":37.4},{"w":650,"s":"EA2","r":37.7},{"w":655,"s":"EA2","r":38},{"w":660,"s":"EA2","r":38.3},{"w":665,"s":"EA2","r":38.6},{"w":670,"s":"EA2","r":38.9},{"w":675,"s":"EA2","r":39.2},{"w":680,"s":"EA2","r":39.4},{"w":685,"s":"EA2","r":38.9},{"w":690,"s":"EA2","r":40.2},{"w":695,"s":"EA2","r":41.3},{"w":700,"s":"EA2","r":42.2},{"w":705,"s":"EA2","r":42.8},{"w":710,"s":"EA2","r":43.2},{"w":715,"s":"EA2","r":43.4},{"w":720,"s":"EA2","r":43.5},{"w":725,"s":"EA2","r":43.4},{"w":730,"s":"EA2","r":43.3},{"w":735,"s":"EA2","r":43.3},{"w":740,"s":"EA2","r":43.4},{"w":745,"s":"EA2","r":43.5},{"w":750,"s":"EA2","r":43.6},{"w":755,"s":"EA2","r":43.7},{"w":760,"s":"EA2","r":43.8},{"w":765,"s":"EA2","r":43.9},{"w":770,"s":"EA2","r":44},{"w":775,"s":"EA2","r":44},{"w":780,"s":"EA2","r":44.1},{"w":785,"s":"EA2","r":44.1},{"w":790,"s":"EA2","r":44.1},{"w":795,"s":"EA2","r":44.1},{"w":800,"s":"EA2","r":44.1},
{"w":330,"s":"EA3","r":20},{"w":335,"s":"EA3","r":19.9},{"w":340,"s":"EA3","r":19.8},{"w":345,"s":"EA3","r":19.8},{"w":350,"s":"EA3","r":19.8},{"w":355,"s":"EA3","r":19.8},{"w":360,"s":"EA3","r":20},{"w":365,"s":"EA3","r":20.2},{"w":370,"s":"EA3","r":20.5},{"w":375,"s":"EA3","r":21},{"w":380,"s":"EA3","r":21.8},{"w":385,"s":"EA3","r":22.7},{"w":390,"s":"EA3","r":23.7},{"w":395,"s":"EA3","r":24.8},{"w":400,"s":"EA3","r":26},{"w":405,"s":"EA3","r":27.5},{"w":410,"s":"EA3","r":29},{"w":415,"s":"EA3","r":30.3},{"w":420,"s":"EA3","r":31.6},{"w":425,"s":"EA3","r":33.1},{"w":430,"s":"EA3","r":34.5},{"w":435,"s":"EA3","r":35.7},{"w":440,"s":"EA3","r":36.7},{"w":445,"s":"EA3","r":37.5},{"w":450,"s":"EA3","r":38.2},{"w":455,"s":"EA3","r":38.8},{"w":460,"s":"EA3","r":39.4},{"w":465,"s":"EA3","r":39.9},{"w":470,"s":"EA3","r":40.3},{"w":475,"s":"EA3","r":40.7},{"w":480,"s":"EA3","r":41},{"w":485,"s":"EA3","r":41.3},{"w":490,"s":"EA3","r":41.6},{"w":495,"s":"EA3","r":41.9},{"w":500,"s":"EA3","r":42.2},{"w":505,"s":"EA3","r":42.6},{"w":510,"s":"EA3","r":42.9},{"w":515,"s":"EA3","r":43.1},{"w":520,"s":"EA3","r":43.3},{"w":525,"s":"EA3","r":43.6},{"w":530,"s":"EA3","r":43.9},{"w":535,"s":"EA3","r":44.3},{"w":540,"s":"EA3","r":44.6},{"w":545,"s":"EA3","r":45},{"w":550,"s":"EA3","r":45.3},{"w":555,"s":"EA3","r":45.6},{"w":560,"s":"EA3","r":45.9},{"w":565,"s":"EA3","r":46.2},{"w":570,"s":"EA3","r":46.6},{"w":575,"s":"EA3","r":47},{"w":580,"s":"EA3","r":47.4},{"w":585,"s":"EA3","r":47.8},{"w":590,"s":"EA3","r":48.2},{"w":595,"s":"EA3","r":48.7},{"w":600,"s":"EA3","r":49.1},{"w":605,"s":"EA3","r":49.5},{"w":610,"s":"EA3","r":49.9},{"w":615,"s":"EA3","r":50.3},{"w":620,"s":"EA3","r":50.7},{"w":625,"s":"EA3","r":51.1},{"w":630,"s":"EA3","r":51.5},{"w":635,"s":"EA3","r":51.8},{"w":640,"s":"EA3","r":52.1},{"w":645,"s":"EA3","r":52.4},{"w":650,"s":"EA3","r":52.7},{"w":655,"s":"EA3","r":53},{"w":660,"s":"EA3","r":53.3},{"w":665,"s":"EA3","r":53.6},{"w":670,"s":"EA3","r":53.9},{"w":675,"s":"EA3","r":54.2},{"w":680,"s":"EA3","r":54.3},{"w":685,"s":"EA3","r":53.5},{"w":690,"s":"EA3","r":52.8},{"w":695,"s":"EA3","r":54.3},{"w":700,"s":"EA3","r":54.6},{"w":705,"s":"EA3","r":54.2},{"w":710,"s":"EA3","r":53.5},{"w":715,"s":"EA3","r":52.6},{"w":720,"s":"EA3","r":51.9},{"w":725,"s":"EA3","r":51.3},{"w":730,"s":"EA3","r":50.8},{"w":735,"s":"EA3","r":50.3},{"w":740,"s":"EA3","r":49.9},{"w":745,"s":"EA3","r":49.5},{"w":750,"s":"EA3","r":49.1},{"w":755,"s":"EA3","r":48.5},{"w":760,"s":"EA3","r":48.1},{"w":765,"s":"EA3","r":47.6},{"w":770,"s":"EA3","r":47.2},{"w":775,"s":"EA3","r":46.8},{"w":780,"s":"EA3","r":46.4},{"w":785,"s":"EA3","r":46},{"w":790,"s":"EA3","r":45.6},{"w":795,"s":"EA3","r":45.2},{"w":800,"s":"EA3","r":44.9}
]
},
"spacing": 23,
"hconcat": [
{
"spacing": 63,
"center": true,
"vconcat": [
{
"width": 500, "height": 368,
"data": {"name": "A"},
"layer": [
{"mark": {"type": "point", "filled": true, "fill": "white", "stroke": "#8a8a8a", "strokeWidth": 1, "size": 95, "opacity": 1},
 "encoding": {
  "x": {"field": "w", "type": "quantitative", "scale": {"domain": [331, 800], "nice": false, "zero": false}, "axis": {"orient": "bottom", "values": [350,400,450,500,550,600,650,700,750,800], "offset": -10, "ticks": true, "tickSize": 10, "domain": false, "labelPadding": 6, "title": "Wavelength (nm)", "titlePadding": 19}},
  "y": {"field": "r", "type": "quantitative", "scale": {"domain": [52.7, 95.2], "nice": false, "zero": false}, "axis": {"orient": "left", "values": [55,60,65,70,75,80,85,90,95], "offset": -10, "ticks": true, "tickSize": 10, "domain": false, "labelPadding": 7, "title": "Reflectance (%)", "titlePadding": 21}},
  "shape": {"field": "s", "type": "nominal", "scale": {"domain": ["EA1","EA2","EA3"], "range": ["square","triangle-up","circle"]}, "legend": null}
 }},
{"data": {"values": [{"w":458.5,"r":92.7,"t":"EA2"},{"w":561,"r":92.1,"t":"EA1"},{"w":686.5,"r":78.6,"t":"EA3"}]},
 "mark": {"type": "text", "fontSize": 19},
 "encoding": {
  "x": {"field": "w", "type": "quantitative", "axis": {"orient": "bottom", "values": [350,375,400,425,450,475,500,525,550,575,600,625,650,675,700,725,750,775,800], "offset": -6, "ticks": true, "tickSize": 6, "tickWidth": 2.5, "labels": false, "domain": false, "title": null}},
  "y": {"field": "r", "type": "quantitative", "axis": {"orient": "left", "values": [55,57.5,60,62.5,65,67.5,70,72.5,75,77.5,80,82.5,85,87.5,90,92.5,95], "offset": -6, "ticks": true, "tickSize": 6, "tickWidth": 2.5, "labels": false, "domain": false, "title": null}},
  "text": {"field": "t"}
 }},
{"data": {"values": [{"w":773.7,"r":45.65,"t":"(A)"}]},
 "mark": {"type": "text", "fontSize": 26},
 "encoding": {"x": {"field": "w", "type": "quantitative", "axis": null}, "y": {"field": "r", "type": "quantitative", "axis": null}, "text": {"field": "t"}}}
],
"resolve": {"axis": {"x": "independent", "y": "independent"}}
},
{
"width": 514, "height": 380,
"data": {"name": "C"},
"layer": [
{"mark": {"type": "point", "filled": true, "fill": "white", "stroke": "#8a8a8a", "strokeWidth": 1, "size": 95, "opacity": 1},
 "encoding": {
  "x": {"field": "w", "type": "quantitative", "scale": {"domain": [333, 800], "nice": false, "zero": false}, "axis": {"orient": "bottom", "values": [350,400,450,500,550,600,650,700,750,800], "offset": -10, "ticks": true, "tickSize": 10, "domain": false, "labelPadding": 10, "title": "Wavelength (nm)", "titlePadding": 15}},
  "y": {"field": "r", "type": "quantitative", "scale": {"domain": [15.5, 72.6], "nice": false, "zero": false}, "axis": {"orient": "left", "values": [20,30,40,50,60,70], "offset": -10, "ticks": true, "tickSize": 10, "domain": false, "labelPadding": 7, "title": "Reflectance (%)", "titlePadding": 24}},
  "shape": {"field": "s", "type": "nominal", "scale": {"domain": ["EA1","EA2","EA3"], "range": ["square","triangle-up","circle"]}, "legend": null}
 }},
{"data": {"values": [{"w":606.5,"r":67.1,"t":"EA2-8 h"},{"w":711.7,"r":39.0,"t":"EA1-8h"},{"w":446.4,"r":27.4,"t":"EA3-8 h"}]},
 "mark": {"type": "text", "fontSize": 19},
 "encoding": {
  "x": {"field": "w", "type": "quantitative", "axis": {"orient": "bottom", "values": [350,375,400,425,450,475,500,525,550,575,600,625,650,675,700,725,750,775,800], "offset": -6, "ticks": true, "tickSize": 6, "tickWidth": 2.5, "labels": false, "domain": false, "title": null}},
  "y": {"field": "r", "type": "quantitative", "axis": {"orient": "left", "values": [17.5,20,22.5,25,27.5,30,32.5,35,37.5,40,42.5,45,47.5,50,52.5,55,57.5,60,62.5,65,67.5,70,72.5], "offset": -6, "ticks": true, "tickSize": 6, "tickWidth": 2.5, "labels": false, "domain": false, "title": null}},
  "text": {"field": "t"}
 }},
{"data": {"values": [{"w":776.4,"r":5.6,"t":"(C)"}]},
 "mark": {"type": "text", "fontSize": 26},
 "encoding": {"x": {"field": "w", "type": "quantitative", "axis": null}, "y": {"field": "r", "type": "quantitative", "axis": {"orient": "right", "ticks": false, "labels": false, "domain": false, "title": "x", "titleOpacity": 0, "titleX": 14}}, "text": {"field": "t"}}}
],
"resolve": {"axis": {"x": "independent", "y": "independent"}}
}
]
},
{
"spacing": 52,
"vconcat": [
{
"width": 501, "height": 364,
"data": {"name": "B"},
"layer": [
{"mark": {"type": "point", "filled": true, "fill": "white", "stroke": "#8a8a8a", "strokeWidth": 1, "size": 95, "opacity": 1},
 "encoding": {
  "x": {"field": "w", "type": "quantitative", "scale": {"domain": [330, 800], "nice": false, "zero": false}, "axis": {"orient": "bottom", "values": [350,400,450,500,550,600,650,700,750,800], "offset": -10, "ticks": true, "tickSize": 10, "domain": false, "labelPadding": 9, "title": "Wavelength (nm)", "titlePadding": 21}},
  "y": {"field": "r", "type": "quantitative", "scale": {"domain": [20, 80], "nice": false, "zero": false}, "axis": {"orient": "left", "values": [20,30,40,50,60,70,80], "offset": -10, "ticks": true, "tickSize": 10, "domain": false, "labelPadding": 7, "title": "Reflectance (%)", "titlePadding": 21}},
  "shape": {"field": "s", "type": "nominal", "scale": {"domain": ["EA1","EA2","EA3"], "range": ["square","triangle-up","circle"]}, "legend": null}
 }},
{"data": {"values": [{"w":401.7,"r":65.07,"t":"EA2-4 h"},{"w":696.2,"r":63.96,"t":"EA3-4 h"},{"w":681.5,"r":43.6,"t":"EA1-4 h"}]},
 "mark": {"type": "text", "fontSize": 19},
 "encoding": {
  "x": {"field": "w", "type": "quantitative", "axis": {"orient": "bottom", "values": [350,375,400,425,450,475,500,525,550,575,600,625,650,675,700,725,750,775,800], "offset": -6, "ticks": true, "tickSize": 6, "tickWidth": 2.5, "labels": false, "domain": false, "title": null}},
  "y": {"field": "r", "type": "quantitative", "axis": {"orient": "left", "values": [20,22.5,25,27.5,30,32.5,35,37.5,40,42.5,45,47.5,50,52.5,55,57.5,60,62.5,65,67.5,70,72.5,75,77.5,80], "offset": -6, "ticks": true, "tickSize": 6, "tickWidth": 2.5, "labels": false, "domain": false, "title": null}},
  "text": {"field": "t"}
 }},
{"data": {"values": [{"w":771.8,"r":9.45,"t":"(B)"}]},
 "mark": {"type": "text", "fontSize": 26},
 "encoding": {"x": {"field": "w", "type": "quantitative", "axis": null}, "y": {"field": "r", "type": "quantitative", "axis": null}, "text": {"field": "t"}}}
],
"resolve": {"axis": {"x": "independent", "y": "independent"}}
},
{
"width": 503, "height": 370,
"data": {"name": "D"},
"layer": [
{"mark": {"type": "point", "filled": true, "fill": "white", "stroke": "#8a8a8a", "strokeWidth": 1, "size": 95, "opacity": 1},
 "encoding": {
  "x": {"field": "w", "type": "quantitative", "scale": {"domain": [331, 800], "nice": false, "zero": false}, "axis": {"orient": "bottom", "values": [350,400,450,500,550,600,650,700,750,800], "labelExpr": "datum.value == 350 ? '' : datum.label", "offset": -10, "ticks": true, "tickSize": 10, "domain": false, "labelPadding": 9, "title": "Wavelength (nm)", "titlePadding": 20}},
  "y": {"field": "r", "type": "quantitative", "scale": {"domain": [15, 60], "nice": false, "zero": false}, "axis": {"orient": "left", "values": [15,20,25,30,35,40,45,50,55,60], "offset": -10, "ticks": true, "tickSize": 10, "domain": false, "labelPadding": 7, "title": "Reflectance (%)", "titlePadding": 21}},
  "shape": {"field": "s", "type": "nominal", "scale": {"domain": ["EA1","EA2","EA3"], "range": ["square","triangle-up","circle"]}, "legend": null}
 }},
{"data": {"values": [{"w":695.3,"r":56.2,"t":"EA3-16 h"},{"w":625.6,"r":44.45,"t":"EA1-16 h"},{"w":591.7,"r":29.75,"t":"EA2-16 h"}]},
 "mark": {"type": "text", "fontSize": 19},
 "encoding": {
  "x": {"field": "w", "type": "quantitative", "axis": {"orient": "bottom", "values": [350,375,400,425,450,475,500,525,550,575,600,625,650,675,700,725,750,775,800], "offset": -6, "ticks": true, "tickSize": 6, "tickWidth": 2.5, "labels": false, "domain": false, "title": null}},
  "y": {"field": "r", "type": "quantitative", "axis": {"orient": "left", "values": [15,17.5,20,22.5,25,27.5,30,32.5,35,37.5,40,42.5,45,47.5,50,52.5,55,57.5,60], "offset": -6, "ticks": true, "tickSize": 6, "tickWidth": 2.5, "labels": false, "domain": false, "title": null}},
  "text": {"field": "t"}
 }},
{"data": {"values": [{"w":770.2,"r":5.6,"t":"(D)"}]},
 "mark": {"type": "text", "fontSize": 26},
 "encoding": {"x": {"field": "w", "type": "quantitative", "axis": null}, "y": {"field": "r", "type": "quantitative", "axis": null}, "text": {"field": "t"}}}
],
"resolve": {"axis": {"x": "independent", "y": "independent"}}
}
]
}
]
}
